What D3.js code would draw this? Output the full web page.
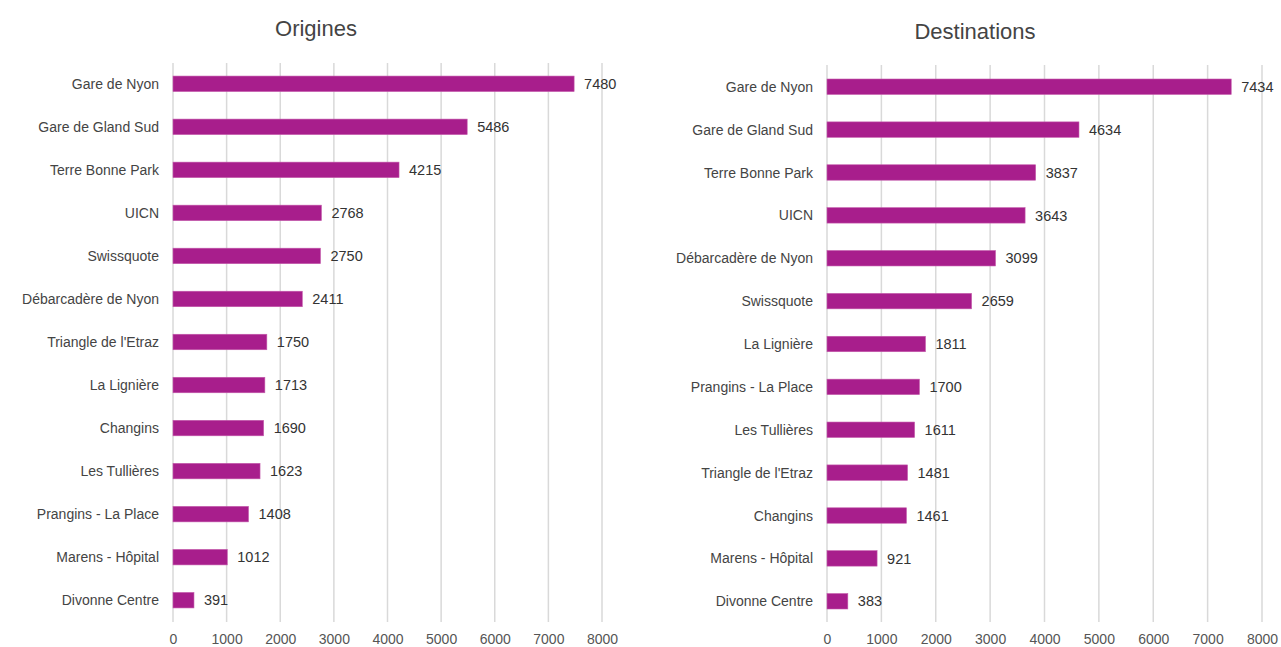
<!DOCTYPE html>
<html>
<head>
<meta charset="utf-8">
<script src="https://cdn.jsdelivr.net/npm/d3@7"></script>
<style>
  body { margin: 0; background: #fff; }
  svg text { font-family: "Liberation Sans", Arial, sans-serif; }
</style>
</head>
<body>
<svg id="chart" width="1281" height="647"></svg>
<script>
// data
var origCats = ["Gare de Nyon", "Gare de Gland Sud", "Terre Bonne Park", "UICN", "Swissquote",
  "Débarcadère de Nyon", "Triangle de l'Etraz", "La Lignière", "Changins", "Les Tullières",
  "Prangins - La Place", "Marens - Hôpital", "Divonne Centre"];
var origVals = [7480, 5486, 4215, 2768, 2750, 2411, 1750, 1713, 1690, 1623, 1408, 1012, 391];

var destCats = ["Gare de Nyon", "Gare de Gland Sud", "Terre Bonne Park", "UICN",
  "Débarcadère de Nyon", "Swissquote", "La Lignière", "Prangins - La Place", "Les Tullières",
  "Triangle de l'Etraz", "Changins", "Marens - Hôpital", "Divonne Centre"];
var destVals = [7434, 4634, 3837, 3643, 3099, 2659, 1811, 1700, 1611, 1481, 1461, 921, 383];

var xTicks = [0, 1000, 2000, 3000, 4000, 5000, 6000, 7000, 8000];

var svg = d3.select("#chart");

/* one panel = title + grid + bars + labels */
function panel(title, cats, vals, opt) {
  var g = svg.append("g");

  var x = d3.scaleLinear().domain([0, 8000]).range([opt.x0, opt.x1]);
  var y = d3.scaleBand().domain(cats)
      .range([opt.yTop, opt.yBot]).paddingInner(0.64).paddingOuter(0.35);

  g.append("text")
      .attr("x", opt.titleX).attr("y", opt.titleY)
      .attr("text-anchor", "middle")
      .style("font-size", "22px").style("fill", "#444")
      .text(title);

  // vertical grid
  g.selectAll(".grid").data(xTicks).enter().append("line")
      .attr("x1", function (d) { return x(d); })
      .attr("x2", function (d) { return x(d); })
      .attr("y1", opt.gridTop).attr("y2", opt.gridBot)
      .style("stroke", "#d9d9d9").style("stroke-width", 1.5);

  var ax = d3.axisBottom(x).tickValues(xTicks).tickFormat(d3.format("d"))
      .tickSize(0).tickPadding(0);
  var axg = g.append("g").attr("transform", "translate(0," + opt.tickY + ")").call(ax);
  axg.attr("font-family", null);
  axg.select(".domain").remove();
  axg.selectAll("text").style("font-size", "14px").style("fill", "#555");

  g.selectAll(".bar").data(vals).enter().append("rect")
      .attr("x", x(0))
      .attr("y", function (d, i) { return y(cats[i]); })
      .attr("width", function (d) { return x(d) - x(0); })
      .attr("height", y.bandwidth())
      .style("fill", "#a81e8c").style("stroke", "#c45aab").style("stroke-width", 0.6);

  g.selectAll(".val").data(vals).enter().append("text")
      .attr("x", function (d) { return x(d) + 10; })
      .attr("y", function (d, i) { return y(cats[i]) + y.bandwidth() / 2; })
      .attr("dy", "0.36em")
      .style("font-size", "14.5px").style("fill", "#333")
      .text(function (d) { return d; });

  g.selectAll(".cat").data(cats).enter().append("text")
      .attr("x", opt.x0 - 14)
      .attr("y", function (d) { return y(d) + y.bandwidth() / 2; })
      .attr("dy", "0.36em")
      .attr("text-anchor", "end")
      .style("font-size", "14px").style("fill", "#444")
      .text(function (d) { return d; });
}

panel("Origines", origCats, origVals, {
  x0: 173, x1: 602, yTop: 61, yBot: 623, titleX: 316, titleY: 36,
  gridTop: 63, gridBot: 622, tickY: 634
});

panel("Destinations", destCats, destVals, {
  x0: 827, x1: 1262, yTop: 64, yBot: 624, titleX: 975, titleY: 39,
  gridTop: 65, gridBot: 622, tickY: 634
});
</script>
</body>
</html>
